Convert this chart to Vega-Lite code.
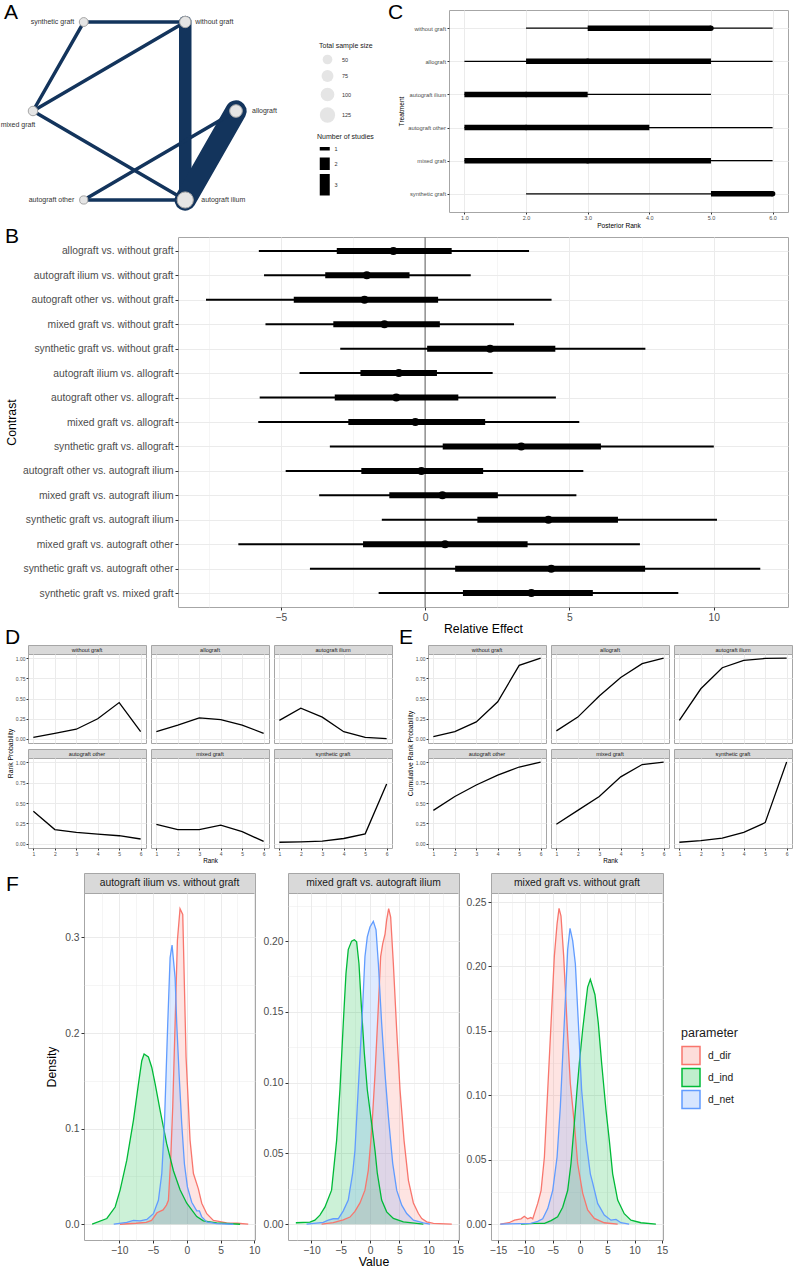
{
  "$schema": "https://vega.github.io/schema/vega-lite/v6.json",
  "background": "white",
  "padding": 0,
  "autosize": {"type": "pad"},
  "config": {
    "font": "Liberation Sans",
    "view": {"stroke": null},
    "concat": {"spacing": 0},
    "axis": {"domain": false, "gridColor": "#ebebeb", "tickColor": "#333333", "labelColor": "#4d4d4d", "titleColor": "#000000", "titleFontWeight": "normal", "labelOverlap": false},
    "title": {"fontWeight": "normal", "color": "#000000"},
    "legend": {"titleFontWeight": "normal"}
  },
  "datasets": {
    "nodes": [
      {"name": "synthetic graft", "gx": 1, "gy": 0, "n": 42},
      {"name": "without graft", "gx": 3, "gy": 0, "n": 68},
      {"name": "mixed graft", "gx": 0, "gy": 1, "n": 48},
      {"name": "allograft", "gx": 4, "gy": 1, "n": 85},
      {"name": "autograft other", "gx": 1, "gy": 2, "n": 36},
      {"name": "autograft ilium", "gx": 3, "gy": 2, "n": 140}
    ],
    "edges": [
      {"from": "synthetic graft", "to": "without graft", "studies": 1, "x1": 1, "y1": 0, "x2": 3, "y2": 0},
      {"from": "synthetic graft", "to": "mixed graft", "studies": 1, "x1": 1, "y1": 0, "x2": 0, "y2": 1},
      {"from": "mixed graft", "to": "without graft", "studies": 1, "x1": 0, "y1": 1, "x2": 3, "y2": 0},
      {"from": "mixed graft", "to": "autograft ilium", "studies": 1, "x1": 0, "y1": 1, "x2": 3, "y2": 2},
      {"from": "without graft", "to": "autograft ilium", "studies": 2, "x1": 3, "y1": 0, "x2": 3, "y2": 2},
      {"from": "allograft", "to": "autograft ilium", "studies": 3, "x1": 4, "y1": 1, "x2": 3, "y2": 2},
      {"from": "allograft", "to": "autograft other", "studies": 1, "x1": 4, "y1": 1, "x2": 1, "y2": 2},
      {"from": "autograft other", "to": "autograft ilium", "studies": 1, "x1": 1, "y1": 2, "x2": 3, "y2": 2}
    ],
    "rankci": [
      {"treatment": "without graft", "lo95": 2, "lo50": 3, "med": 5, "hi50": 5, "hi95": 6},
      {"treatment": "allograft", "lo95": 1, "lo50": 2, "med": 3, "hi50": 5, "hi95": 6},
      {"treatment": "autograft ilium", "lo95": 1, "lo50": 1, "med": 2, "hi50": 3, "hi95": 5},
      {"treatment": "autograft other", "lo95": 1, "lo50": 1, "med": 2, "hi50": 4, "hi95": 6},
      {"treatment": "mixed graft", "lo95": 1, "lo50": 1, "med": 3, "hi50": 5, "hi95": 6},
      {"treatment": "synthetic graft", "lo95": 2, "lo50": 5, "med": 6, "hi50": 6, "hi95": 6}
    ],
    "contrasts": [
      {"contrast": "allograft vs. without graft", "lo95": -5.76, "lo50": -3.06, "med": -1.10, "hi50": 0.92, "hi95": 3.60},
      {"contrast": "autograft ilium vs. without graft", "lo95": -5.58, "lo50": -3.46, "med": -2.02, "hi50": -0.54, "hi95": 1.58},
      {"contrast": "autograft other vs. without graft", "lo95": -7.59, "lo50": -4.55, "med": -2.10, "hi50": 0.45, "hi95": 4.38},
      {"contrast": "mixed graft vs. without graft", "lo95": -5.53, "lo50": -3.18, "med": -1.41, "hi50": 0.51, "hi95": 3.08},
      {"contrast": "synthetic graft vs. without graft", "lo95": -2.94, "lo50": 0.07, "med": 2.25, "hi50": 4.51, "hi95": 7.63},
      {"contrast": "autograft ilium vs. allograft", "lo95": -4.35, "lo50": -2.24, "med": -0.91, "hi50": 0.41, "hi95": 2.34},
      {"contrast": "autograft other vs. allograft", "lo95": -5.73, "lo50": -3.13, "med": -1.00, "hi50": 1.15, "hi95": 4.53},
      {"contrast": "mixed graft vs. allograft", "lo95": -5.78, "lo50": -2.66, "med": -0.34, "hi50": 2.08, "hi95": 5.34},
      {"contrast": "synthetic graft vs. allograft", "lo95": -3.30, "lo50": 0.61, "med": 3.33, "hi50": 6.09, "hi95": 10.00},
      {"contrast": "autograft other vs. autograft ilium", "lo95": -4.83, "lo50": -2.21, "med": -0.13, "hi50": 2.01, "hi95": 5.48},
      {"contrast": "mixed graft vs. autograft ilium", "lo95": -3.67, "lo50": -1.24, "med": 0.60, "hi50": 2.52, "hi95": 5.24},
      {"contrast": "synthetic graft vs. autograft ilium", "lo95": -1.50, "lo50": 1.81, "med": 4.27, "hi50": 6.68, "hi95": 10.11},
      {"contrast": "mixed graft vs. autograft other", "lo95": -6.47, "lo50": -2.15, "med": 0.69, "hi50": 3.55, "hi95": 7.44},
      {"contrast": "synthetic graft vs. autograft other", "lo95": -3.99, "lo50": 1.04, "med": 4.37, "hi50": 7.62, "hi95": 11.61},
      {"contrast": "synthetic graft vs. mixed graft", "lo95": -1.61, "lo50": 1.31, "med": 3.68, "hi50": 5.81, "hi95": 8.77}
    ],
    "ranks": [
      {"treatment": "without graft", "rank": 1, "prob": 0.02, "cum": 0.03},
      {"treatment": "without graft", "rank": 2, "prob": 0.07, "cum": 0.09},
      {"treatment": "without graft", "rank": 3, "prob": 0.12, "cum": 0.21},
      {"treatment": "without graft", "rank": 4, "prob": 0.25, "cum": 0.46},
      {"treatment": "without graft", "rank": 5, "prob": 0.45, "cum": 0.91},
      {"treatment": "without graft", "rank": 6, "prob": 0.09, "cum": 1.0},
      {"treatment": "allograft", "rank": 1, "prob": 0.09, "cum": 0.10},
      {"treatment": "allograft", "rank": 2, "prob": 0.17, "cum": 0.27},
      {"treatment": "allograft", "rank": 3, "prob": 0.26, "cum": 0.53},
      {"treatment": "allograft", "rank": 4, "prob": 0.24, "cum": 0.76},
      {"treatment": "allograft", "rank": 5, "prob": 0.17, "cum": 0.93},
      {"treatment": "allograft", "rank": 6, "prob": 0.07, "cum": 1.0},
      {"treatment": "autograft ilium", "rank": 1, "prob": 0.23, "cum": 0.23},
      {"treatment": "autograft ilium", "rank": 2, "prob": 0.38, "cum": 0.62},
      {"treatment": "autograft ilium", "rank": 3, "prob": 0.27, "cum": 0.88},
      {"treatment": "autograft ilium", "rank": 4, "prob": 0.09, "cum": 0.97},
      {"treatment": "autograft ilium", "rank": 5, "prob": 0.02, "cum": 0.995},
      {"treatment": "autograft ilium", "rank": 6, "prob": 0.005, "cum": 1.0},
      {"treatment": "autograft other", "rank": 1, "prob": 0.40, "cum": 0.41},
      {"treatment": "autograft other", "rank": 2, "prob": 0.175, "cum": 0.58},
      {"treatment": "autograft other", "rank": 3, "prob": 0.14, "cum": 0.72},
      {"treatment": "autograft other", "rank": 4, "prob": 0.12, "cum": 0.84},
      {"treatment": "autograft other", "rank": 5, "prob": 0.10, "cum": 0.94},
      {"treatment": "autograft other", "rank": 6, "prob": 0.06, "cum": 1.0},
      {"treatment": "mixed graft", "rank": 1, "prob": 0.24, "cum": 0.24},
      {"treatment": "mixed graft", "rank": 2, "prob": 0.175, "cum": 0.41},
      {"treatment": "mixed graft", "rank": 3, "prob": 0.175, "cum": 0.58},
      {"treatment": "mixed graft", "rank": 4, "prob": 0.23, "cum": 0.82},
      {"treatment": "mixed graft", "rank": 5, "prob": 0.15, "cum": 0.97},
      {"treatment": "mixed graft", "rank": 6, "prob": 0.03, "cum": 1.0},
      {"treatment": "synthetic graft", "rank": 1, "prob": 0.02, "cum": 0.02},
      {"treatment": "synthetic graft", "rank": 2, "prob": 0.025, "cum": 0.04},
      {"treatment": "synthetic graft", "rank": 3, "prob": 0.033, "cum": 0.07},
      {"treatment": "synthetic graft", "rank": 4, "prob": 0.066, "cum": 0.14},
      {"treatment": "synthetic graft", "rank": 5, "prob": 0.123, "cum": 0.26},
      {"treatment": "synthetic graft", "rank": 6, "prob": 0.733, "cum": 1.0}
    ],
    "stripsTop": [{"treatment": "without graft"}, {"treatment": "allograft"}, {"treatment": "autograft ilium"}],
    "stripsBottom": [{"treatment": "autograft other"}, {"treatment": "mixed graft"}, {"treatment": "synthetic graft"}],
    "blank": [{"k": 0}],
    "dens1": [
      {"parameter": "d_dir", "value": -9.9, "density": 0}, {"parameter": "d_dir", "value": -7.5, "density": 0.001}, {"parameter": "d_dir", "value": -6, "density": 0.002}, {"parameter": "d_dir", "value": -5.2, "density": 0.004}, {"parameter": "d_dir", "value": -4.4, "density": 0.012}, {"parameter": "d_dir", "value": -3.5, "density": 0.015}, {"parameter": "d_dir", "value": -3.0, "density": 0.02}, {"parameter": "d_dir", "value": -2.71, "density": 0.025}, {"parameter": "d_dir", "value": -2.36, "density": 0.07}, {"parameter": "d_dir", "value": -2.07, "density": 0.123}, {"parameter": "d_dir", "value": -1.72, "density": 0.21}, {"parameter": "d_dir", "value": -1.38, "density": 0.297}, {"parameter": "d_dir", "value": -0.99, "density": 0.33}, {"parameter": "d_dir", "value": -0.59, "density": 0.324}, {"parameter": "d_dir", "value": -0.1, "density": 0.175}, {"parameter": "d_dir", "value": 0.49, "density": 0.088}, {"parameter": "d_dir", "value": 0.99, "density": 0.053}, {"parameter": "d_dir", "value": 1.72, "density": 0.037}, {"parameter": "d_dir", "value": 2.22, "density": 0.022}, {"parameter": "d_dir", "value": 2.96, "density": 0.011}, {"parameter": "d_dir", "value": 3.94, "density": 0.004}, {"parameter": "d_dir", "value": 5.9, "density": 0.0014}, {"parameter": "d_dir", "value": 7.5, "density": 0.001}, {"parameter": "d_dir", "value": 9.1, "density": 0},
      {"parameter": "d_ind", "value": -14.0, "density": 0}, {"parameter": "d_ind", "value": -11.82, "density": 0.006}, {"parameter": "d_ind", "value": -10.59, "density": 0.018}, {"parameter": "d_ind", "value": -9.85, "density": 0.036}, {"parameter": "d_ind", "value": -8.87, "density": 0.067}, {"parameter": "d_ind", "value": -7.88, "density": 0.109}, {"parameter": "d_ind", "value": -7.14, "density": 0.147}, {"parameter": "d_ind", "value": -6.65, "density": 0.171}, {"parameter": "d_ind", "value": -6.31, "density": 0.178}, {"parameter": "d_ind", "value": -5.67, "density": 0.175}, {"parameter": "d_ind", "value": -5.17, "density": 0.164}, {"parameter": "d_ind", "value": -4.68, "density": 0.147}, {"parameter": "d_ind", "value": -3.94, "density": 0.119}, {"parameter": "d_ind", "value": -2.96, "density": 0.084}, {"parameter": "d_ind", "value": -1.97, "density": 0.056}, {"parameter": "d_ind", "value": -0.99, "density": 0.036}, {"parameter": "d_ind", "value": 0, "density": 0.022}, {"parameter": "d_ind", "value": 0.74, "density": 0.015}, {"parameter": "d_ind", "value": 1.48, "density": 0.008}, {"parameter": "d_ind", "value": 2.46, "density": 0.0035}, {"parameter": "d_ind", "value": 4.43, "density": 0.0014}, {"parameter": "d_ind", "value": 7.9, "density": 0},
      {"parameter": "d_net", "value": -10.8, "density": 0}, {"parameter": "d_net", "value": -8.87, "density": 0.002}, {"parameter": "d_net", "value": -7.88, "density": 0.004}, {"parameter": "d_net", "value": -6.9, "density": 0.0035}, {"parameter": "d_net", "value": -5.9, "density": 0.005}, {"parameter": "d_net", "value": -4.93, "density": 0.011}, {"parameter": "d_net", "value": -4.19, "density": 0.025}, {"parameter": "d_net", "value": -3.69, "density": 0.053}, {"parameter": "d_net", "value": -3.3, "density": 0.105}, {"parameter": "d_net", "value": -2.81, "density": 0.21}, {"parameter": "d_net", "value": -2.46, "density": 0.279}, {"parameter": "d_net", "value": -2.17, "density": 0.292}, {"parameter": "d_net", "value": -1.72, "density": 0.258}, {"parameter": "d_net", "value": -1.48, "density": 0.21}, {"parameter": "d_net", "value": -1.13, "density": 0.157}, {"parameter": "d_net", "value": -0.74, "density": 0.105}, {"parameter": "d_net", "value": -0.34, "density": 0.063}, {"parameter": "d_net", "value": 0.1, "density": 0.039}, {"parameter": "d_net", "value": 0.74, "density": 0.023}, {"parameter": "d_net", "value": 1.48, "density": 0.014}, {"parameter": "d_net", "value": 1.87, "density": 0.014}, {"parameter": "d_net", "value": 2.2, "density": 0.008}, {"parameter": "d_net", "value": 2.96, "density": 0.0025}, {"parameter": "d_net", "value": 4.4, "density": 0.0007}, {"parameter": "d_net", "value": 6.9, "density": 0}
    ],
    "dens2": [
      {"parameter": "d_dir", "value": -8.27, "density": 0}, {"parameter": "d_dir", "value": -6.27, "density": 0.001}, {"parameter": "d_dir", "value": -4.56, "density": 0.003}, {"parameter": "d_dir", "value": -3.42, "density": 0.005}, {"parameter": "d_dir", "value": -2.57, "density": 0.009}, {"parameter": "d_dir", "value": -1.71, "density": 0.015}, {"parameter": "d_dir", "value": -0.86, "density": 0.024}, {"parameter": "d_dir", "value": -0.29, "density": 0.038}, {"parameter": "d_dir", "value": 0.29, "density": 0.066}, {"parameter": "d_dir", "value": 0.86, "density": 0.106}, {"parameter": "d_dir", "value": 1.43, "density": 0.154}, {"parameter": "d_dir", "value": 1.82, "density": 0.189}, {"parameter": "d_dir", "value": 2.17, "density": 0.198}, {"parameter": "d_dir", "value": 2.57, "density": 0.205}, {"parameter": "d_dir", "value": 2.85, "density": 0.215}, {"parameter": "d_dir", "value": 3.19, "density": 0.223}, {"parameter": "d_dir", "value": 3.53, "density": 0.217}, {"parameter": "d_dir", "value": 3.99, "density": 0.184}, {"parameter": "d_dir", "value": 4.56, "density": 0.137}, {"parameter": "d_dir", "value": 5.13, "density": 0.095}, {"parameter": "d_dir", "value": 5.82, "density": 0.059}, {"parameter": "d_dir", "value": 6.56, "density": 0.031}, {"parameter": "d_dir", "value": 7.41, "density": 0.015}, {"parameter": "d_dir", "value": 8.27, "density": 0.0075}, {"parameter": "d_dir", "value": 8.84, "density": 0.004}, {"parameter": "d_dir", "value": 9.69, "density": 0.0016}, {"parameter": "d_dir", "value": 10.83, "density": 0.0005}, {"parameter": "d_dir", "value": 13.97, "density": 0},
      {"parameter": "d_ind", "value": -12.66, "density": 0.001}, {"parameter": "d_ind", "value": -10.26, "density": 0.0014}, {"parameter": "d_ind", "value": -9.41, "density": 0.0028}, {"parameter": "d_ind", "value": -8.55, "density": 0.0064}, {"parameter": "d_ind", "value": -7.7, "density": 0.012}, {"parameter": "d_ind", "value": -6.56, "density": 0.024}, {"parameter": "d_ind", "value": -5.7, "density": 0.059}, {"parameter": "d_ind", "value": -5.13, "density": 0.095}, {"parameter": "d_ind", "value": -4.56, "density": 0.142}, {"parameter": "d_ind", "value": -4.1, "density": 0.177}, {"parameter": "d_ind", "value": -3.71, "density": 0.194}, {"parameter": "d_ind", "value": -3.14, "density": 0.2}, {"parameter": "d_ind", "value": -2.68, "density": 0.201}, {"parameter": "d_ind", "value": -2.28, "density": 0.1995}, {"parameter": "d_ind", "value": -1.88, "density": 0.184}, {"parameter": "d_ind", "value": -1.43, "density": 0.151}, {"parameter": "d_ind", "value": -0.97, "density": 0.121}, {"parameter": "d_ind", "value": -0.46, "density": 0.095}, {"parameter": "d_ind", "value": 0.29, "density": 0.071}, {"parameter": "d_ind", "value": 0.86, "density": 0.052}, {"parameter": "d_ind", "value": 1.25, "density": 0.036}, {"parameter": "d_ind", "value": 1.99, "density": 0.017}, {"parameter": "d_ind", "value": 2.85, "density": 0.0087}, {"parameter": "d_ind", "value": 3.99, "density": 0.004}, {"parameter": "d_ind", "value": 5.7, "density": 0.0016}, {"parameter": "d_ind", "value": 7.98, "density": 0.0005}, {"parameter": "d_ind", "value": 9.12, "density": 0},
      {"parameter": "d_net", "value": -10.83, "density": 0}, {"parameter": "d_net", "value": -7.98, "density": 0.0012}, {"parameter": "d_net", "value": -7.13, "density": 0.0028}, {"parameter": "d_net", "value": -6.27, "density": 0.0038}, {"parameter": "d_net", "value": -5.42, "density": 0.0038}, {"parameter": "d_net", "value": -4.56, "density": 0.0094}, {"parameter": "d_net", "value": -3.71, "density": 0.017}, {"parameter": "d_net", "value": -2.96, "density": 0.036}, {"parameter": "d_net", "value": -2.57, "density": 0.052}, {"parameter": "d_net", "value": -2.17, "density": 0.083}, {"parameter": "d_net", "value": -1.71, "density": 0.118}, {"parameter": "d_net", "value": -1.25, "density": 0.154}, {"parameter": "d_net", "value": -0.86, "density": 0.189}, {"parameter": "d_net", "value": -0.46, "density": 0.203}, {"parameter": "d_net", "value": 0, "density": 0.21}, {"parameter": "d_net", "value": 0.57, "density": 0.214}, {"parameter": "d_net", "value": 1.03, "density": 0.208}, {"parameter": "d_net", "value": 1.43, "density": 0.184}, {"parameter": "d_net", "value": 1.99, "density": 0.142}, {"parameter": "d_net", "value": 2.57, "density": 0.106}, {"parameter": "d_net", "value": 3.14, "density": 0.076}, {"parameter": "d_net", "value": 3.88, "density": 0.043}, {"parameter": "d_net", "value": 4.56, "density": 0.024}, {"parameter": "d_net", "value": 5.42, "density": 0.0134}, {"parameter": "d_net", "value": 6.27, "density": 0.0075}, {"parameter": "d_net", "value": 7.41, "density": 0.0028}, {"parameter": "d_net", "value": 9.12, "density": 0.0009}, {"parameter": "d_net", "value": 10.26, "density": 0}
    ],
    "dens3": [
      {"parameter": "d_dir", "value": -14.6, "density": 0}, {"parameter": "d_dir", "value": -13, "density": 0.001}, {"parameter": "d_dir", "value": -12, "density": 0.003}, {"parameter": "d_dir", "value": -10.8, "density": 0.004}, {"parameter": "d_dir", "value": -10.2, "density": 0.006}, {"parameter": "d_dir", "value": -9.6, "density": 0.004}, {"parameter": "d_dir", "value": -9.0, "density": 0.005}, {"parameter": "d_dir", "value": -8.66, "density": 0.004}, {"parameter": "d_dir", "value": -8.23, "density": 0.0096}, {"parameter": "d_dir", "value": -7.74, "density": 0.016}, {"parameter": "d_dir", "value": -7.13, "density": 0.026}, {"parameter": "d_dir", "value": -6.52, "density": 0.052}, {"parameter": "d_dir", "value": -5.91, "density": 0.104}, {"parameter": "d_dir", "value": -5.3, "density": 0.156}, {"parameter": "d_dir", "value": -4.7, "density": 0.208}, {"parameter": "d_dir", "value": -4.2, "density": 0.233}, {"parameter": "d_dir", "value": -3.84, "density": 0.245}, {"parameter": "d_dir", "value": -3.48, "density": 0.239}, {"parameter": "d_dir", "value": -2.99, "density": 0.208}, {"parameter": "d_dir", "value": -2.38, "density": 0.156}, {"parameter": "d_dir", "value": -1.77, "density": 0.109}, {"parameter": "d_dir", "value": -1.04, "density": 0.078}, {"parameter": "d_dir", "value": -0.43, "density": 0.047}, {"parameter": "d_dir", "value": 0.49, "density": 0.024}, {"parameter": "d_dir", "value": 1.4, "density": 0.011}, {"parameter": "d_dir", "value": 2.62, "density": 0.0044}, {"parameter": "d_dir", "value": 4.45, "density": 0.001}, {"parameter": "d_dir", "value": 6.9, "density": 0},
      {"parameter": "d_ind", "value": -10.8, "density": 0}, {"parameter": "d_ind", "value": -8.35, "density": 0.0005}, {"parameter": "d_ind", "value": -6.5, "density": 0.0005}, {"parameter": "d_ind", "value": -5.3, "density": 0.0026}, {"parameter": "d_ind", "value": -4.1, "density": 0.0057}, {"parameter": "d_ind", "value": -3.17, "density": 0.013}, {"parameter": "d_ind", "value": -2.26, "density": 0.026}, {"parameter": "d_ind", "value": -1.65, "density": 0.047}, {"parameter": "d_ind", "value": -1.04, "density": 0.078}, {"parameter": "d_ind", "value": -0.55, "density": 0.104}, {"parameter": "d_ind", "value": -0.12, "density": 0.125}, {"parameter": "d_ind", "value": 0.49, "density": 0.151}, {"parameter": "d_ind", "value": 0.98, "density": 0.169}, {"parameter": "d_ind", "value": 1.4, "density": 0.184}, {"parameter": "d_ind", "value": 1.89, "density": 0.19}, {"parameter": "d_ind", "value": 2.32, "density": 0.184}, {"parameter": "d_ind", "value": 2.74, "density": 0.178}, {"parameter": "d_ind", "value": 3.35, "density": 0.156}, {"parameter": "d_ind", "value": 3.96, "density": 0.125}, {"parameter": "d_ind", "value": 4.76, "density": 0.0885}, {"parameter": "d_ind", "value": 5.37, "density": 0.065}, {"parameter": "d_ind", "value": 5.98, "density": 0.039}, {"parameter": "d_ind", "value": 6.9, "density": 0.0186}, {"parameter": "d_ind", "value": 8.1, "density": 0.008}, {"parameter": "d_ind", "value": 9.33, "density": 0.003}, {"parameter": "d_ind", "value": 11.16, "density": 0.001}, {"parameter": "d_ind", "value": 13.9, "density": 0},
      {"parameter": "d_net", "value": -14.6, "density": 0}, {"parameter": "d_net", "value": -11, "density": 0.0003}, {"parameter": "d_net", "value": -9, "density": 0.0005}, {"parameter": "d_net", "value": -7.74, "density": 0.002}, {"parameter": "d_net", "value": -6.83, "density": 0.004}, {"parameter": "d_net", "value": -5.91, "density": 0.012}, {"parameter": "d_net", "value": -5.0, "density": 0.026}, {"parameter": "d_net", "value": -4.2, "density": 0.052}, {"parameter": "d_net", "value": -3.6, "density": 0.091}, {"parameter": "d_net", "value": -3.17, "density": 0.13}, {"parameter": "d_net", "value": -2.74, "density": 0.169}, {"parameter": "d_net", "value": -2.26, "density": 0.213}, {"parameter": "d_net", "value": -1.83, "density": 0.2296}, {"parameter": "d_net", "value": -1.34, "density": 0.22}, {"parameter": "d_net", "value": -0.85, "density": 0.202}, {"parameter": "d_net", "value": -0.3, "density": 0.156}, {"parameter": "d_net", "value": 0.3, "density": 0.104}, {"parameter": "d_net", "value": 1.1, "density": 0.065}, {"parameter": "d_net", "value": 1.89, "density": 0.039}, {"parameter": "d_net", "value": 2.32, "density": 0.032}, {"parameter": "d_net", "value": 3.23, "density": 0.016}, {"parameter": "d_net", "value": 4.45, "density": 0.007}, {"parameter": "d_net", "value": 5.67, "density": 0.003}, {"parameter": "d_net", "value": 6.59, "density": 0.0036}, {"parameter": "d_net", "value": 7.5, "density": 0.001}, {"parameter": "d_net", "value": 9.0, "density": 0}
    ]
  },
  "vconcat": [
    {"width": 1, "height": 10, "data": {"name": "blank"}, "mark": {"type": "point", "filled": true, "opacity": 0, "size": 0}},
    {
      "hconcat": [
        {
          "width": 300, "height": 202,
          "title": {"text": "A", "anchor": "start", "frame": "group", "fontSize": 21, "baseline": "alphabetic", "offset": 0, "dx": 4, "dy": 30},
          "layer": [
            {
              "data": {"name": "edges"},
              "mark": {"type": "rule", "color": "#13345c", "strokeCap": "round"},
              "encoding": {
                "x": {"field": "x1", "type": "quantitative", "scale": {"domain": [-0.65, 5.261], "nice": false, "zero": false}, "axis": null},
                "y": {"field": "y1", "type": "quantitative", "scale": {"domain": [-0.135, 2.135], "nice": false, "zero": false, "reverse": true}, "axis": null},
                "x2": {"field": "x2"},
                "y2": {"field": "y2"},
                "strokeWidth": {"field": "studies", "type": "quantitative", "scale": {"domain": [1, 3], "range": [3.5, 21.5]}, "legend": null}
              }
            },
            {
              "data": {"name": "edges"},
              "transform": [{"filter": {"field": "y1", "gte": 1}}],
              "mark": {"type": "point", "filled": true, "opacity": 0, "color": "black"},
              "encoding": {
                "x": {"field": "x1", "type": "quantitative"},
                "y": {"field": "y1", "type": "quantitative"},
                "shape": {"field": "studies", "type": "ordinal",
                  "scale": {"domain": [1, 2, 3], "range": ["M0,-1.75H10V1.75H0Z", "M0,-6.25H10V6.25H0Z", "M0,-10.75H10V10.75H0Z"]},
                  "legend": {"title": "Number of studies", "orient": "none", "legendX": 317, "legendY": 133, "symbolSize": 4, "symbolFillColor": "black", "symbolStrokeColor": "transparent", "symbolStrokeWidth": 0, "symbolOpacity": 1, "titleFontSize": 7, "labelFontSize": 5.5, "labelColor": "#333333", "titleColor": "#1a1a1a", "titlePadding": 6, "labelOffset": 12, "rowPadding": 4}}
              }
            },
            {
              "data": {"name": "nodes"},
              "mark": {"type": "point", "filled": true, "fill": "#e5e5e5", "stroke": "#a6a6a6", "strokeWidth": 1, "opacity": 1},
              "encoding": {
                "x": {"field": "gx", "type": "quantitative"},
                "y": {"field": "gy", "type": "quantitative"},
                "size": {"field": "n", "type": "quantitative", "scale": {"domain": [0, 140], "range": [0, 263]},
                  "legend": {"title": "Total sample size", "values": [50, 75, 100, 125], "format": "d", "orient": "none", "legendX": 319, "legendY": 42, "symbolFillColor": "#e5e5e5", "symbolStrokeColor": "#a6a6a6", "symbolStrokeWidth": 1, "symbolOpacity": 1, "titleFontSize": 7, "labelFontSize": 5.5, "labelColor": "#333333", "titleColor": "#1a1a1a", "titlePadding": 5, "labelOffset": 6, "rowPadding": 4.5,
                    "encoding": {"symbols": {"strokeJoin": {"value": "round"}}}}}
              }
            },
            {
              "data": {"name": "nodes"},
              "transform": [{"filter": {"field": "name", "oneOf": ["synthetic graft", "autograft other"]}}],
              "mark": {"type": "text", "align": "right", "baseline": "middle", "dx": -9.5, "fontSize": 7, "color": "#333333"},
              "encoding": {"x": {"field": "gx", "type": "quantitative"}, "y": {"field": "gy", "type": "quantitative"}, "text": {"field": "name"}}
            },
            {
              "data": {"name": "nodes"},
              "transform": [{"filter": {"field": "name", "oneOf": ["without graft"]}}],
              "mark": {"type": "text", "align": "left", "baseline": "middle", "dx": 10, "fontSize": 7, "color": "#333333"},
              "encoding": {"x": {"field": "gx", "type": "quantitative"}, "y": {"field": "gy", "type": "quantitative"}, "text": {"field": "name"}}
            },
            {
              "data": {"name": "nodes"},
              "transform": [{"filter": {"field": "name", "oneOf": ["allograft", "autograft ilium"]}}],
              "mark": {"type": "text", "align": "left", "baseline": "middle", "dx": 16, "fontSize": 7, "color": "#333333"},
              "encoding": {"x": {"field": "gx", "type": "quantitative"}, "y": {"field": "gy", "type": "quantitative"}, "text": {"field": "name"}}
            },
            {
              "data": {"name": "nodes"},
              "transform": [{"filter": {"field": "name", "oneOf": ["mixed graft"]}}],
              "mark": {"type": "text", "align": "center", "baseline": "middle", "dx": -15, "dy": 14, "fontSize": 7, "color": "#333333"},
              "encoding": {"x": {"field": "gx", "type": "quantitative"}, "y": {"field": "gy", "type": "quantitative"}, "text": {"field": "name"}}
            }
          ]
        },
        {
          "width": 339, "height": 202,
          "view": {"stroke": "#a6a6a6"},
          "title": {"text": "C", "anchor": "start", "frame": "group", "fontSize": 21, "baseline": "alphabetic", "offset": 0, "dx": -61, "dy": 30},
          "data": {"name": "rankci"},
          "layer": [
            {
              "mark": {"type": "rule", "color": "black", "strokeWidth": 1.3},
              "encoding": {
                "y": {"field": "treatment", "type": "nominal", "sort": ["without graft", "allograft", "autograft ilium", "autograft other", "mixed graft", "synthetic graft"], "scale": {"type": "point", "padding": 0.55},
                  "axis": {"title": "Treatment", "titleFontSize": 6.6, "labelFontSize": 5.8, "tickSize": 2, "labelPadding": 1.5, "titlePadding": 3, "grid": true}},
                "x": {"field": "lo95", "type": "quantitative", "scale": {"domain": [0.75, 6.25], "nice": false, "zero": false},
                  "axis": {"values": [1, 1.5, 2, 2.5, 3, 3.5, 4, 4.5, 5, 5.5, 6], "labelExpr": "datum.value % 1 === 0 ? datum.label : ''", "tickOpacity": {"condition": {"test": "datum.value % 1 !== 0", "value": 0}, "value": 1}, "gridWidth": {"condition": {"test": "datum.value % 1 !== 0", "value": 0.5}, "value": 1}, "grid": true, "title": "Posterior Rank", "titleFontSize": 6.6, "labelFontSize": 5.5, "tickSize": 2, "labelPadding": 1, "titlePadding": 2, "labelFlush": false}},
                "x2": {"field": "hi95"}
              }
            },
            {
              "mark": {"type": "rule", "color": "black", "strokeWidth": 5.5},
              "encoding": {
                "y": {"field": "treatment", "type": "nominal", "sort": ["without graft", "allograft", "autograft ilium", "autograft other", "mixed graft", "synthetic graft"]},
                "x": {"field": "lo50", "type": "quantitative"},
                "x2": {"field": "hi50"}
              }
            },
            {
              "mark": {"type": "point", "filled": true, "color": "black", "opacity": 1, "size": 30},
              "encoding": {
                "y": {"field": "treatment", "type": "nominal", "sort": ["without graft", "allograft", "autograft ilium", "autograft other", "mixed graft", "synthetic graft"]},
                "x": {"field": "med", "type": "quantitative"}
              }
            }
          ]
        }
      ],
      "spacing": 149,
      "bounds": "flush"
    },
    {"width": 1, "height": 227, "data": {"name": "blank"}, "mark": {"type": "point", "filled": true, "opacity": 0, "size": 0}},
    {
      "hconcat": [
        {"width": 178, "height": 1, "data": {"name": "blank"}, "mark": {"type": "point", "filled": true, "opacity": 0, "size": 0},
         "title": {"text": "B", "anchor": "start", "frame": "group", "fontSize": 21, "baseline": "alphabetic", "offset": 0, "dx": 5, "dy": 27}},
        {
          "width": 610, "height": 370,
          "view": {"stroke": "#a6a6a6"},
          "layer": [
            {
              "data": {"name": "blank"},
              "mark": {"type": "rule", "color": "#808080", "strokeWidth": 1.3},
              "encoding": {
                "x": {"datum": 0, "type": "quantitative", "scale": {"domain": [-8.56, 12.57], "nice": false, "zero": false},
                  "axis": {"values": [-7.5, -5, -2.5, 0, 2.5, 5, 7.5, 10], "labelExpr": "datum.value % 5 === 0 ? datum.label : ''", "tickOpacity": {"condition": {"test": "datum.value % 5 !== 0", "value": 0}, "value": 1}, "gridWidth": {"condition": {"test": "datum.value % 5 !== 0", "value": 0.5}, "value": 1}, "grid": true, "title": "Relative Effect", "titleFontSize": 12.3, "labelFontSize": 10.3, "tickSize": 3, "labelPadding": 2, "titlePadding": 0, "labelFlush": false}}
              }
            },
            {
              "data": {"name": "contrasts"},
              "mark": {"type": "rule", "color": "black", "strokeWidth": 2},
              "encoding": {
                "y": {"field": "contrast", "type": "nominal", "sort": null, "scale": {"type": "point", "padding": 0.57},
                  "axis": {"title": "Contrast", "titleFontSize": 12.3, "labelFontSize": 10.3, "tickSize": 3, "labelPadding": 2, "titlePadding": 4, "grid": true}},
                "x": {"field": "lo95", "type": "quantitative"},
                "x2": {"field": "hi95"}
              }
            },
            {
              "data": {"name": "contrasts"},
              "mark": {"type": "rule", "color": "black", "strokeWidth": 6},
              "encoding": {
                "y": {"field": "contrast", "type": "nominal", "sort": null},
                "x": {"field": "lo50", "type": "quantitative"},
                "x2": {"field": "hi50"}
              }
            },
            {
              "data": {"name": "contrasts"},
              "mark": {"type": "point", "filled": true, "color": "black", "opacity": 1, "size": 64},
              "encoding": {
                "y": {"field": "contrast", "type": "nominal", "sort": null},
                "x": {"field": "med", "type": "quantitative"}
              }
            }
          ]
        }
      ],
      "spacing": 0,
      "bounds": "flush"
    },
    {"width": 1, "height": 408, "data": {"name": "blank"}, "mark": {"type": "point", "filled": true, "opacity": 0, "size": 0}},
    {
      "hconcat": [
        {"width": 28, "height": 1, "data": {"name": "blank"}, "mark": {"type": "point", "filled": true, "opacity": 0, "size": 0},
         "title": {"text": "D", "anchor": "start", "frame": "group", "fontSize": 21, "baseline": "alphabetic", "offset": 0, "dx": 5, "dy": 20}},
        {
          "vconcat": [
            {
              "data": {"name": "stripsTop"},
              "facet": {"column": {"field": "treatment", "sort": ["without graft", "allograft", "autograft ilium"], "header": {"title": null, "labels": false}}},
              "spacing": 5, "bounds": "flush",
              "spec": {"width": 118, "height": 9, "view": {"fill": "#d9d9d9", "stroke": "#a6a6a6"}, "mark": {"type": "text", "fontSize": 5.6, "color": "#1a1a1a"}, "encoding": {"text": {"field": "treatment"}}}
            },
            {"width": 1, "height": 9, "data": {"name": "blank"}, "mark": {"type": "point", "filled": true, "opacity": 0, "size": 0}},
            {
              "hconcat": [
                {"width": 118, "height": 89, "view": {"stroke": "#a6a6a6"}, "data": {"name": "ranks"}, "transform": [{"filter": {"field": "treatment", "equal": "without graft"}}],
                 "mark": {"type": "line", "color": "black", "strokeWidth": 1.3},
                 "encoding": {
                   "x": {"field": "rank", "type": "quantitative", "scale": {"domain": [0.75, 6.25], "nice": false, "zero": false}, "axis": {"values": [1, 2, 3, 4, 5, 6], "labels": false, "ticks": false, "title": null, "grid": true}},
                   "y": {"field": "prob", "type": "quantitative", "scale": {"domain": [-0.05, 1.05], "nice": false, "zero": false}, "axis": {"values": [0, 0.25, 0.5, 0.75, 1], "format": ".2f", "labelFontSize": 5, "tickSize": 2, "labelPadding": 1, "grid": true, "title": "Rank Probability", "titleFontSize": 6.8, "titlePadding": 2, "titleY": 99}}}},
                {"width": 118, "height": 89, "view": {"stroke": "#a6a6a6"}, "data": {"name": "ranks"}, "transform": [{"filter": {"field": "treatment", "equal": "allograft"}}],
                 "mark": {"type": "line", "color": "black", "strokeWidth": 1.3},
                 "encoding": {
                   "x": {"field": "rank", "type": "quantitative", "scale": {"domain": [0.75, 6.25], "nice": false, "zero": false}, "axis": {"values": [1, 2, 3, 4, 5, 6], "labels": false, "ticks": false, "title": null, "grid": true}},
                   "y": {"field": "prob", "type": "quantitative", "scale": {"domain": [-0.05, 1.05], "nice": false, "zero": false}, "axis": {"values": [0, 0.25, 0.5, 0.75, 1], "labels": false, "ticks": false, "title": null, "grid": true}}}},
                {"width": 118, "height": 89, "view": {"stroke": "#a6a6a6"}, "data": {"name": "ranks"}, "transform": [{"filter": {"field": "treatment", "equal": "autograft ilium"}}],
                 "mark": {"type": "line", "color": "black", "strokeWidth": 1.3},
                 "encoding": {
                   "x": {"field": "rank", "type": "quantitative", "scale": {"domain": [0.75, 6.25], "nice": false, "zero": false}, "axis": {"values": [1, 2, 3, 4, 5, 6], "labels": false, "ticks": false, "title": null, "grid": true}},
                   "y": {"field": "prob", "type": "quantitative", "scale": {"domain": [-0.05, 1.05], "nice": false, "zero": false}, "axis": {"values": [0, 0.25, 0.5, 0.75, 1], "labels": false, "ticks": false, "title": null, "grid": true}}}}
              ],
              "spacing": 5, "bounds": "flush"
            },
            {"width": 1, "height": 95, "data": {"name": "blank"}, "mark": {"type": "point", "filled": true, "opacity": 0, "size": 0}},
            {
              "data": {"name": "stripsBottom"},
              "facet": {"column": {"field": "treatment", "sort": ["autograft other", "mixed graft", "synthetic graft"], "header": {"title": null, "labels": false}}},
              "spacing": 5, "bounds": "flush",
              "spec": {"width": 118, "height": 9, "view": {"fill": "#d9d9d9", "stroke": "#a6a6a6"}, "mark": {"type": "text", "fontSize": 5.6, "color": "#1a1a1a"}, "encoding": {"text": {"field": "treatment"}}}
            },
            {"width": 1, "height": 9, "data": {"name": "blank"}, "mark": {"type": "point", "filled": true, "opacity": 0, "size": 0}},
            {
              "hconcat": [
                {"width": 118, "height": 90, "view": {"stroke": "#a6a6a6"}, "data": {"name": "ranks"}, "transform": [{"filter": {"field": "treatment", "equal": "autograft other"}}],
                 "mark": {"type": "line", "color": "black", "strokeWidth": 1.3},
                 "encoding": {
                   "x": {"field": "rank", "type": "quantitative", "scale": {"domain": [0.75, 6.25], "nice": false, "zero": false}, "axis": {"values": [1, 2, 3, 4, 5, 6], "labelFontSize": 5, "tickSize": 2, "labelPadding": 1, "title": null, "grid": true, "labelFlush": false}},
                   "y": {"field": "prob", "type": "quantitative", "scale": {"domain": [-0.05, 1.05], "nice": false, "zero": false}, "axis": {"values": [0, 0.25, 0.5, 0.75, 1], "format": ".2f", "labelFontSize": 5, "tickSize": 2, "labelPadding": 1, "grid": true, "title": null}}}},
                {"width": 118, "height": 90, "view": {"stroke": "#a6a6a6"}, "data": {"name": "ranks"}, "transform": [{"filter": {"field": "treatment", "equal": "mixed graft"}}],
                 "mark": {"type": "line", "color": "black", "strokeWidth": 1.3},
                 "encoding": {
                   "x": {"field": "rank", "type": "quantitative", "scale": {"domain": [0.75, 6.25], "nice": false, "zero": false}, "axis": {"values": [1, 2, 3, 4, 5, 6], "labelFontSize": 5, "tickSize": 2, "labelPadding": 1, "title": "Rank", "titleFontSize": 6.3, "titlePadding": 1, "grid": true, "labelFlush": false}},
                   "y": {"field": "prob", "type": "quantitative", "scale": {"domain": [-0.05, 1.05], "nice": false, "zero": false}, "axis": {"values": [0, 0.25, 0.5, 0.75, 1], "labels": false, "ticks": false, "title": null, "grid": true}}}},
                {"width": 118, "height": 90, "view": {"stroke": "#a6a6a6"}, "data": {"name": "ranks"}, "transform": [{"filter": {"field": "treatment", "equal": "synthetic graft"}}],
                 "mark": {"type": "line", "color": "black", "strokeWidth": 1.3},
                 "encoding": {
                   "x": {"field": "rank", "type": "quantitative", "scale": {"domain": [0.75, 6.25], "nice": false, "zero": false}, "axis": {"values": [1, 2, 3, 4, 5, 6], "labelFontSize": 5, "tickSize": 2, "labelPadding": 1, "title": null, "grid": true, "labelFlush": false}},
                   "y": {"field": "prob", "type": "quantitative", "scale": {"domain": [-0.05, 1.05], "nice": false, "zero": false}, "axis": {"values": [0, 0.25, 0.5, 0.75, 1], "labels": false, "ticks": false, "title": null, "grid": true}}}}
              ],
              "spacing": 5, "bounds": "flush"
            }
          ],
          "spacing": 0, "bounds": "flush"
        },
        {"width": 400, "height": 1, "data": {"name": "blank"}, "mark": {"type": "point", "filled": true, "opacity": 0, "size": 0},
         "title": {"text": "E", "anchor": "start", "frame": "group", "fontSize": 21, "baseline": "alphabetic", "offset": 0, "dx": 371, "dy": 20}},
        {
          "vconcat": [
            {
              "data": {"name": "stripsTop"},
              "facet": {"column": {"field": "treatment", "sort": ["without graft", "allograft", "autograft ilium"], "header": {"title": null, "labels": false}}},
              "spacing": 5, "bounds": "flush",
              "spec": {"width": 118, "height": 9, "view": {"fill": "#d9d9d9", "stroke": "#a6a6a6"}, "mark": {"type": "text", "fontSize": 5.6, "color": "#1a1a1a"}, "encoding": {"text": {"field": "treatment"}}}
            },
            {"width": 1, "height": 9, "data": {"name": "blank"}, "mark": {"type": "point", "filled": true, "opacity": 0, "size": 0}},
            {
              "hconcat": [
                {"width": 118, "height": 89, "view": {"stroke": "#a6a6a6"}, "data": {"name": "ranks"}, "transform": [{"filter": {"field": "treatment", "equal": "without graft"}}],
                 "mark": {"type": "line", "color": "black", "strokeWidth": 1.3},
                 "encoding": {
                   "x": {"field": "rank", "type": "quantitative", "scale": {"domain": [0.75, 6.25], "nice": false, "zero": false}, "axis": {"values": [1, 2, 3, 4, 5, 6], "labels": false, "ticks": false, "title": null, "grid": true}},
                   "y": {"field": "cum", "type": "quantitative", "scale": {"domain": [-0.05, 1.05], "nice": false, "zero": false}, "axis": {"values": [0, 0.25, 0.5, 0.75, 1], "format": ".2f", "labelFontSize": 5, "tickSize": 2, "labelPadding": 1, "grid": true, "title": "Cumulative Rank Probability", "titleFontSize": 6.8, "titlePadding": 2, "titleY": 99}}}},
                {"width": 118, "height": 89, "view": {"stroke": "#a6a6a6"}, "data": {"name": "ranks"}, "transform": [{"filter": {"field": "treatment", "equal": "allograft"}}],
                 "mark": {"type": "line", "color": "black", "strokeWidth": 1.3},
                 "encoding": {
                   "x": {"field": "rank", "type": "quantitative", "scale": {"domain": [0.75, 6.25], "nice": false, "zero": false}, "axis": {"values": [1, 2, 3, 4, 5, 6], "labels": false, "ticks": false, "title": null, "grid": true}},
                   "y": {"field": "cum", "type": "quantitative", "scale": {"domain": [-0.05, 1.05], "nice": false, "zero": false}, "axis": {"values": [0, 0.25, 0.5, 0.75, 1], "labels": false, "ticks": false, "title": null, "grid": true}}}},
                {"width": 118, "height": 89, "view": {"stroke": "#a6a6a6"}, "data": {"name": "ranks"}, "transform": [{"filter": {"field": "treatment", "equal": "autograft ilium"}}],
                 "mark": {"type": "line", "color": "black", "strokeWidth": 1.3},
                 "encoding": {
                   "x": {"field": "rank", "type": "quantitative", "scale": {"domain": [0.75, 6.25], "nice": false, "zero": false}, "axis": {"values": [1, 2, 3, 4, 5, 6], "labels": false, "ticks": false, "title": null, "grid": true}},
                   "y": {"field": "cum", "type": "quantitative", "scale": {"domain": [-0.05, 1.05], "nice": false, "zero": false}, "axis": {"values": [0, 0.25, 0.5, 0.75, 1], "labels": false, "ticks": false, "title": null, "grid": true}}}}
              ],
              "spacing": 5, "bounds": "flush"
            },
            {"width": 1, "height": 95, "data": {"name": "blank"}, "mark": {"type": "point", "filled": true, "opacity": 0, "size": 0}},
            {
              "data": {"name": "stripsBottom"},
              "facet": {"column": {"field": "treatment", "sort": ["autograft other", "mixed graft", "synthetic graft"], "header": {"title": null, "labels": false}}},
              "spacing": 5, "bounds": "flush",
              "spec": {"width": 118, "height": 9, "view": {"fill": "#d9d9d9", "stroke": "#a6a6a6"}, "mark": {"type": "text", "fontSize": 5.6, "color": "#1a1a1a"}, "encoding": {"text": {"field": "treatment"}}}
            },
            {"width": 1, "height": 9, "data": {"name": "blank"}, "mark": {"type": "point", "filled": true, "opacity": 0, "size": 0}},
            {
              "hconcat": [
                {"width": 118, "height": 90, "view": {"stroke": "#a6a6a6"}, "data": {"name": "ranks"}, "transform": [{"filter": {"field": "treatment", "equal": "autograft other"}}],
                 "mark": {"type": "line", "color": "black", "strokeWidth": 1.3},
                 "encoding": {
                   "x": {"field": "rank", "type": "quantitative", "scale": {"domain": [0.75, 6.25], "nice": false, "zero": false}, "axis": {"values": [1, 2, 3, 4, 5, 6], "labelFontSize": 5, "tickSize": 2, "labelPadding": 1, "title": null, "grid": true, "labelFlush": false}},
                   "y": {"field": "cum", "type": "quantitative", "scale": {"domain": [-0.05, 1.05], "nice": false, "zero": false}, "axis": {"values": [0, 0.25, 0.5, 0.75, 1], "format": ".2f", "labelFontSize": 5, "tickSize": 2, "labelPadding": 1, "grid": true, "title": null}}}},
                {"width": 118, "height": 90, "view": {"stroke": "#a6a6a6"}, "data": {"name": "ranks"}, "transform": [{"filter": {"field": "treatment", "equal": "mixed graft"}}],
                 "mark": {"type": "line", "color": "black", "strokeWidth": 1.3},
                 "encoding": {
                   "x": {"field": "rank", "type": "quantitative", "scale": {"domain": [0.75, 6.25], "nice": false, "zero": false}, "axis": {"values": [1, 2, 3, 4, 5, 6], "labelFontSize": 5, "tickSize": 2, "labelPadding": 1, "title": "Rank", "titleFontSize": 6.3, "titlePadding": 1, "grid": true, "labelFlush": false}},
                   "y": {"field": "cum", "type": "quantitative", "scale": {"domain": [-0.05, 1.05], "nice": false, "zero": false}, "axis": {"values": [0, 0.25, 0.5, 0.75, 1], "labels": false, "ticks": false, "title": null, "grid": true}}}},
                {"width": 118, "height": 90, "view": {"stroke": "#a6a6a6"}, "data": {"name": "ranks"}, "transform": [{"filter": {"field": "treatment", "equal": "synthetic graft"}}],
                 "mark": {"type": "line", "color": "black", "strokeWidth": 1.3},
                 "encoding": {
                   "x": {"field": "rank", "type": "quantitative", "scale": {"domain": [0.75, 6.25], "nice": false, "zero": false}, "axis": {"values": [1, 2, 3, 4, 5, 6], "labelFontSize": 5, "tickSize": 2, "labelPadding": 1, "title": null, "grid": true, "labelFlush": false}},
                   "y": {"field": "cum", "type": "quantitative", "scale": {"domain": [-0.05, 1.05], "nice": false, "zero": false}, "axis": {"values": [0, 0.25, 0.5, 0.75, 1], "labels": false, "ticks": false, "title": null, "grid": true}}}}
              ],
              "spacing": 5, "bounds": "flush"
            }
          ],
          "spacing": 0, "bounds": "flush"
        }
      ],
      "spacing": 0,
      "bounds": "flush"
    },
    {"width": 1, "height": 228, "data": {"name": "blank"}, "mark": {"type": "point", "filled": true, "opacity": 0, "size": 0}},
    {
      "hconcat": [
        {"width": 84, "height": 1, "data": {"name": "blank"}, "mark": {"type": "point", "filled": true, "opacity": 0, "size": 0},
         "title": {"text": "F", "anchor": "start", "frame": "group", "fontSize": 21, "baseline": "alphabetic", "offset": 0, "dx": 6, "dy": 39}},
        {
          "vconcat": [
            {"width": 171, "height": 20, "view": {"fill": "#d9d9d9", "stroke": "#a6a6a6"}, "data": {"values": [{"contrast": "autograft ilium vs. without graft"}]},
             "mark": {"type": "text", "fontSize": 10.3, "color": "#1a1a1a"}, "encoding": {"text": {"field": "contrast"}}},
            {
              "width": 171, "height": 347,
              "view": {"stroke": "#a6a6a6"},
              "data": {"name": "dens1"},
              "encoding": {
                "x": {"field": "value", "type": "quantitative", "scale": {"domain": [-15.2, 10.1], "nice": false, "zero": false},
                  "axis": {"values": [-12.5, -10, -7.5, -5, -2.5, 0, 2.5, 5, 7.5, 10], "labelExpr": "datum.value % 5 === 0 ? datum.label : ''", "tickOpacity": {"condition": {"test": "datum.value % 5 !== 0", "value": 0}, "value": 1}, "gridWidth": {"condition": {"test": "datum.value % 5 !== 0", "value": 0.5}, "value": 1}, "grid": true, "title": null, "labelFontSize": 10.3, "tickSize": 3, "labelPadding": 2, "labelFlush": false}},
                "y": {"field": "density", "type": "quantitative", "stack": null, "scale": {"domain": [-0.0165, 0.3465], "nice": false},
                  "axis": {"values": [0, 0.05, 0.1, 0.15, 0.2, 0.25, 0.3], "labelExpr": "indexof([0, 0.1, 0.2, 0.3], datum.value) >= 0 ? format(datum.value, '.1f') : ''", "tickOpacity": {"condition": {"test": "indexof([0, 0.1, 0.2, 0.3], datum.value) < 0", "value": 0}, "value": 1}, "gridWidth": {"condition": {"test": "indexof([0, 0.1, 0.2, 0.3], datum.value) < 0", "value": 0.5}, "value": 1}, "grid": true, "title": "Density", "titleFontSize": 12.3, "labelFontSize": 10.3, "tickSize": 3, "labelPadding": 2, "titlePadding": 6}}
              },
              "layer": [
                {"mark": {"type": "area", "fillOpacity": 0.2},
                 "encoding": {"fill": {"field": "parameter", "type": "nominal", "scale": {"domain": ["d_dir", "d_ind", "d_net"], "range": ["#F8766D", "#00BA38", "#619CFF"]},
                   "legend": {"title": "parameter", "orient": "none", "legendX": 681, "legendY": 1027, "symbolType": "square", "symbolSize": 324, "symbolStrokeWidth": 1.5, "titleFontSize": 12.5, "labelFontSize": 10.3, "rowPadding": -6, "labelOffset": 7, "titlePadding": 6, "titleColor": "#1a1a1a", "labelColor": "#1a1a1a", "encoding": {"symbols": {"fillOpacity": {"value": 0.25}, "strokeOpacity": {"value": 1}}}}}}},
                {"mark": {"type": "line", "strokeWidth": 1.3},
                 "encoding": {"stroke": {"field": "parameter", "type": "nominal", "scale": {"domain": ["d_dir", "d_ind", "d_net"], "range": ["#F8766D", "#00BA38", "#619CFF"]},
                   "legend": {"title": "parameter", "orient": "none", "legendX": 681, "legendY": 1027, "symbolType": "square", "symbolSize": 324, "symbolStrokeWidth": 1.5, "titleFontSize": 12.5, "labelFontSize": 10.3, "rowPadding": -6, "labelOffset": 7, "titlePadding": 6, "titleColor": "#1a1a1a", "labelColor": "#1a1a1a", "encoding": {"symbols": {"fillOpacity": {"value": 0.25}, "strokeOpacity": {"value": 1}}}}}}}
              ]
            }
          ],
          "spacing": 0, "bounds": "flush"
        },
        {"width": 204, "height": 1, "data": {"name": "blank"}, "mark": {"type": "point", "filled": true, "opacity": 0, "size": 0}},
        {
          "vconcat": [
            {"width": 171, "height": 20, "view": {"fill": "#d9d9d9", "stroke": "#a6a6a6"}, "data": {"values": [{"contrast": "mixed graft vs. autograft ilium"}]},
             "mark": {"type": "text", "fontSize": 10.3, "color": "#1a1a1a"}, "encoding": {"text": {"field": "contrast"}}},
            {
              "width": 171, "height": 347,
              "view": {"stroke": "#a6a6a6"},
              "data": {"name": "dens2"},
              "encoding": {
                "x": {"field": "value", "type": "quantitative", "scale": {"domain": [-14.0, 15.2], "nice": false, "zero": false},
                  "axis": {"values": [-12.5, -10, -7.5, -5, -2.5, 0, 2.5, 5, 7.5, 10, 12.5, 15], "labelExpr": "datum.value % 5 === 0 ? datum.label : ''", "tickOpacity": {"condition": {"test": "datum.value % 5 !== 0", "value": 0}, "value": 1}, "gridWidth": {"condition": {"test": "datum.value % 5 !== 0", "value": 0.5}, "value": 1}, "grid": true, "title": "Value", "titleFontSize": 12.3, "titlePadding": 0, "labelFontSize": 10.3, "tickSize": 3, "labelPadding": 2, "labelFlush": false}},
                "y": {"field": "density", "type": "quantitative", "stack": null, "scale": {"domain": [-0.0112, 0.234], "nice": false},
                  "axis": {"values": [0, 0.025, 0.05, 0.075, 0.1, 0.125, 0.15, 0.175, 0.2, 0.225], "labelExpr": "indexof([0, 0.05, 0.1, 0.15, 0.2], datum.value) >= 0 ? format(datum.value, '.2f') : ''", "tickOpacity": {"condition": {"test": "indexof([0, 0.05, 0.1, 0.15, 0.2], datum.value) < 0", "value": 0}, "value": 1}, "gridWidth": {"condition": {"test": "indexof([0, 0.05, 0.1, 0.15, 0.2], datum.value) < 0", "value": 0.5}, "value": 1}, "grid": true, "title": null, "labelFontSize": 10.3, "tickSize": 3, "labelPadding": 2}}
              },
              "layer": [
                {"mark": {"type": "area", "fillOpacity": 0.2},
                 "encoding": {"fill": {"field": "parameter", "type": "nominal", "scale": {"domain": ["d_dir", "d_ind", "d_net"], "range": ["#F8766D", "#00BA38", "#619CFF"]}}}},
                {"mark": {"type": "line", "strokeWidth": 1.3},
                 "encoding": {"stroke": {"field": "parameter", "type": "nominal", "scale": {"domain": ["d_dir", "d_ind", "d_net"], "range": ["#F8766D", "#00BA38", "#619CFF"]}}}}
              ]
            }
          ],
          "spacing": 0, "bounds": "flush"
        },
        {"width": 203, "height": 1, "data": {"name": "blank"}, "mark": {"type": "point", "filled": true, "opacity": 0, "size": 0}},
        {
          "vconcat": [
            {"width": 172, "height": 20, "view": {"fill": "#d9d9d9", "stroke": "#a6a6a6"}, "data": {"values": [{"contrast": "mixed graft vs. without graft"}]},
             "mark": {"type": "text", "fontSize": 10.3, "color": "#1a1a1a"}, "encoding": {"text": {"field": "contrast"}}},
            {
              "width": 172, "height": 347,
              "view": {"stroke": "#a6a6a6"},
              "data": {"name": "dens3"},
              "encoding": {
                "x": {"field": "value", "type": "quantitative", "scale": {"domain": [-16.3, 15.2], "nice": false, "zero": false},
                  "axis": {"values": [-15, -12.5, -10, -7.5, -5, -2.5, 0, 2.5, 5, 7.5, 10, 12.5, 15], "labelExpr": "datum.value % 5 === 0 ? datum.label : ''", "tickOpacity": {"condition": {"test": "datum.value % 5 !== 0", "value": 0}, "value": 1}, "gridWidth": {"condition": {"test": "datum.value % 5 !== 0", "value": 0.5}, "value": 1}, "grid": true, "title": null, "labelFontSize": 10.3, "tickSize": 3, "labelPadding": 2, "labelFlush": false}},
                "y": {"field": "density", "type": "quantitative", "stack": null, "scale": {"domain": [-0.0124, 0.257], "nice": false},
                  "axis": {"values": [0, 0.025, 0.05, 0.075, 0.1, 0.125, 0.15, 0.175, 0.2, 0.225, 0.25], "labelExpr": "indexof([0, 0.05, 0.1, 0.15, 0.2, 0.25], datum.value) >= 0 ? format(datum.value, '.2f') : ''", "tickOpacity": {"condition": {"test": "indexof([0, 0.05, 0.1, 0.15, 0.2, 0.25], datum.value) < 0", "value": 0}, "value": 1}, "gridWidth": {"condition": {"test": "indexof([0, 0.05, 0.1, 0.15, 0.2, 0.25], datum.value) < 0", "value": 0.5}, "value": 1}, "grid": true, "title": null, "labelFontSize": 10.3, "tickSize": 3, "labelPadding": 2}}
              },
              "layer": [
                {"mark": {"type": "area", "fillOpacity": 0.2},
                 "encoding": {"fill": {"field": "parameter", "type": "nominal", "scale": {"domain": ["d_dir", "d_ind", "d_net"], "range": ["#F8766D", "#00BA38", "#619CFF"]}}}},
                {"mark": {"type": "line", "strokeWidth": 1.3},
                 "encoding": {"stroke": {"field": "parameter", "type": "nominal", "scale": {"domain": ["d_dir", "d_ind", "d_net"], "range": ["#F8766D", "#00BA38", "#619CFF"]}}}}
              ]
            }
          ],
          "spacing": 0, "bounds": "flush"
        }
      ],
      "spacing": 0,
      "bounds": "flush"
    }
  ],
  "spacing": 0,
  "bounds": "flush"
}
